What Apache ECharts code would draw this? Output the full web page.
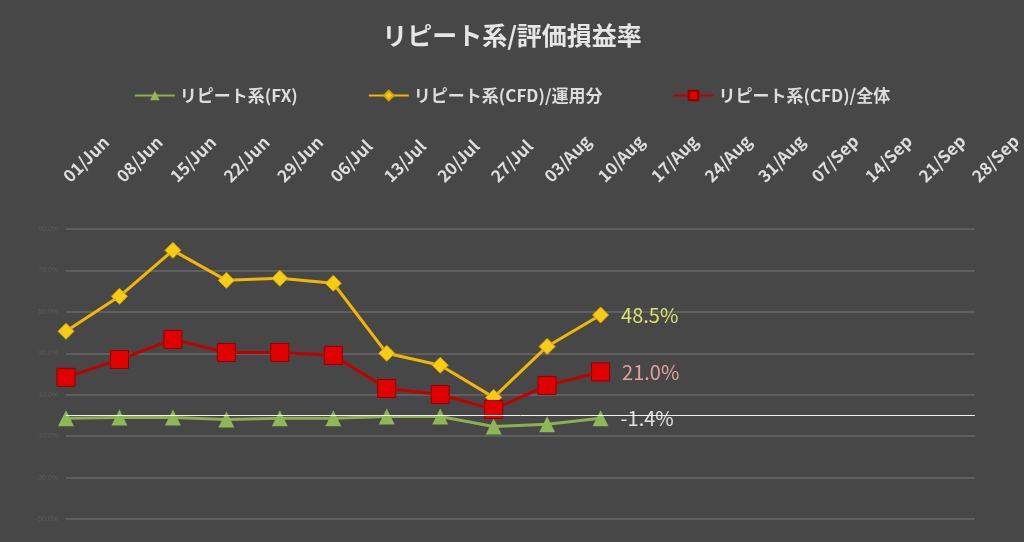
<!DOCTYPE html>
<html><head><meta charset="utf-8">
<script src="https://cdn.jsdelivr.net/npm/echarts@6/dist/echarts.min.js"></script>
<style>html,body{margin:0;background:#474747}#c{width:1024px;height:542px}</style>
</head><body><div id="c"></div>
<script>
var dates = ['01/Jun','08/Jun','15/Jun','22/Jun','29/Jun','06/Jul','13/Jul','20/Jul','27/Jul','03/Aug','10/Aug','17/Aug','24/Aug','31/Aug','07/Sep','14/Sep','21/Sep','28/Sep'];
var fx = [-1.4,-1.0,-1.0,-2.0,-1.4,-1.4,-0.5,-0.5,-5.3,-4.3,-1.4];
var cfdOps = [40.6,57.5,79.7,65.2,66.2,63.8,30.0,24.2,8.7,33.3,48.5];
var cfdAll = [18.4,27.0,36.7,30.4,30.4,29.0,13.0,10.1,2.9,14.5,21.0];
var font = '"Noto Sans CJK JP", sans-serif';

function lastLabel(color, underline) {
    return {
        show: true, position: 'right', distance: 12, fontSize: 20, color: color, fontFamily: font,
        formatter: function (p) {
            return p.dataIndex === 10 ? (underline ? '{u|' + p.value.toFixed(1) + '%}' : p.value.toFixed(1) + '%') : '';
        },
        rich: { u: { color: color, fontSize: 20, textBorderWidth: 0 } }
    };
}

var chart = echarts.init(document.getElementById('c'));
chart.setOption({
    backgroundColor: '#474747',
    title: {
        text: 'リピート系/評価損益率', left: 'center', top: 18,
        textStyle: { color: '#e6e6e6', fontSize: 25, fontWeight: 'bold', fontFamily: font }
    },
    legend: {
        top: 82, left: 'center', itemGap: 70, itemWidth: 40, itemHeight: 12,
        textStyle: { color: '#dddddd', fontSize: 17, fontWeight: 'bold', fontFamily: font },
        data: ['リピート系(FX)', 'リピート系(CFD)/運用分', 'リピート系(CFD)/全体']
    },
    grid: { left: 66, right: 46, top: 229, bottom: 23 },
    xAxis: {
        type: 'category', data: dates, position: 'top', boundaryGap: false, offset: 42,
        axisLine: { show: false }, axisTick: { show: false }, splitLine: { show: false },
        axisLabel: { rotate: 45, color: '#dddddd', fontSize: 17, fontWeight: 'bold', fontFamily: font, interval: 0 }
    },
    yAxis: {
        type: 'value', min: -50, max: 90, interval: 20,
        axisLine: { show: false }, axisTick: { show: false },
        axisLabel: { color: '#5c5c5c', fontSize: 7, formatter: function (v) { return v.toFixed(1) + '%'; } },
        splitLine: { lineStyle: { color: '#5f5f5f', width: 2 } }
    },
    series: [
        {
            name: 'リピート系(FX)', type: 'line', data: fx, symbol: 'triangle', symbolSize: 16,
            lineStyle: { color: '#8db04e', width: 3 }, itemStyle: { color: '#8fb755' },
            label: lastLabel('#e0e0e0', false),
            markLine: {
                silent: true, symbol: 'none', label: { show: false },
                lineStyle: { color: '#f0f0f0', width: 1, type: 'solid' },
                data: [{ yAxis: 0 }]
            }
        },
        {
            name: 'リピート系(CFD)/運用分', type: 'line', data: cfdOps, symbol: 'diamond', symbolSize: 16,
            lineStyle: { color: '#f2b705', width: 3 }, itemStyle: { color: '#f7cc14', borderColor: '#d9a300', borderWidth: 1 },
            label: lastLabel('#dce36a', false)
        },
        {
            name: 'リピート系(CFD)/全体', type: 'line', data: cfdAll, symbol: 'rect', symbolSize: 18,
            lineStyle: { color: '#c00000', width: 3 }, itemStyle: { color: '#e00000', borderColor: '#900000', borderWidth: 1 },
            label: lastLabel('#e3a0a0', true)
        }
    ]
});
</script>
</body></html>
